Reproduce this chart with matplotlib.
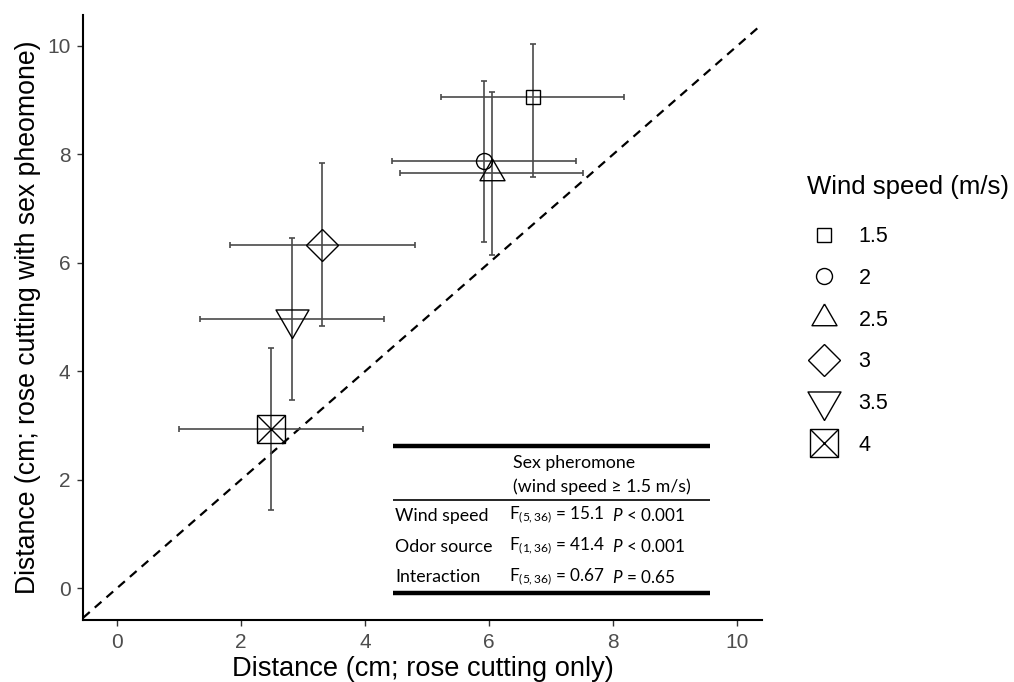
import matplotlib
matplotlib.use("Agg")
import matplotlib.pyplot as plt
from matplotlib.legend_handler import HandlerTuple
from matplotlib.lines import Line2D

# =========================================================
# DATA
# =========================================================
wind_speeds = ["1.5", "2", "2.5", "3", "3.5", "4"]
x_mean = [6.70, 5.92, 6.04, 3.31, 2.82, 2.48]
x_err = [1.48, 1.48, 1.48, 1.49, 1.48, 1.48]
y_mean = [9.06, 7.87, 7.65, 6.33, 4.96, 2.93]
y_err_lo = [1.48, 1.48, 1.51, 1.50, 1.49, 1.49]
y_err_hi = [0.98, 1.49, 1.50, 1.51, 1.49, 1.49]

axis_ticks = [0, 2, 4, 6, 8, 10]

table_header = ["Sex pheromone", "(wind speed \u2265 1.5 m/s)"]
table_terms = ["Wind speed", "Odor source", "Interaction"]
table_f = [r"F$_{(5,36)}$ = 15.1", r"F$_{(1,36)}$ = 41.4", r"F$_{(5,36)}$ = 0.67"]
table_p = [r"$P$ < 0.001", r"$P$ < 0.001", r"$P$ = 0.65"]

# =========================================================
# STYLE
# =========================================================
plt.rcParams["font.family"] = ["Liberation Sans", "DejaVu Sans"]
plt.rcParams["mathtext.fontset"] = "custom"
plt.rcParams["mathtext.rm"] = "Lato"
plt.rcParams["mathtext.it"] = "Lato:italic"

tri_up = [(0, 1), (-0.866, -0.5), (0.866, -0.5), (0, 1)]
tri_down = [(0, -1), (-0.866, 0.5), (0.866, 0.5), (0, -1)]
markers = ["s", "o", tri_up, "D", tri_down, "s"]
sizes = [10.3, 11.5, 20.8, 15.8, 27.4, 20.2]

fig = plt.figure(figsize=(10.14, 6.82), dpi=100)
ax = fig.add_axes([0.0819, 0.0909, 0.6696, 0.8871])

# identity line
ax.axline((0, 0), slope=1, color="black", lw=1.6, ls=(0, (4, 3)), zorder=1)

handles = []
for i, ws in enumerate(wind_speeds):
    ax.errorbar(x_mean[i], y_mean[i],
                xerr=x_err[i], yerr=[[y_err_lo[i]], [y_err_hi[i]]],
                fmt="none", ecolor="#4a4a4a", elinewidth=1.2,
                capsize=2.3, capthick=1.2, zorder=2)
    ax.plot(x_mean[i], y_mean[i], marker=markers[i], ms=sizes[i],
            mfc="none", mec="black", mew=1.0, ls="none", zorder=3)
    h = Line2D([], [], marker=markers[i], ms=sizes[i], mfc="none",
               mec="black", mew=1.0, ls="none")
    if ws == "4":
        ax.plot(x_mean[i], y_mean[i], marker="x", ms=sizes[i],
                mec="black", mew=1.0, ls="none", zorder=3)
        hx = Line2D([], [], marker="x", ms=sizes[i], mec="black",
                    mew=1.0, ls="none")
        h = (h, hx)
    handles.append(h)

ax.set_xlim(-0.55, 10.4)
ax.set_ylim(-0.59, 10.57)
ax.set_xticks(axis_ticks)
ax.set_yticks(axis_ticks)
ax.tick_params(axis="both", labelsize=15, labelcolor="#4D4D4D",
               color="#333333", length=4, width=1.0, pad=5)
ax.tick_params(axis="x", pad=5.5)
for side in ["top", "right"]:
    ax.spines[side].set_visible(False)
for side in ["left", "bottom"]:
    ax.spines[side].set_linewidth(1.5)

ax.set_xlabel("Distance (cm; rose cutting only)", fontsize=19.6, labelpad=2.5)
ax.set_ylabel("Distance (cm; rose cutting with sex pheomone)", fontsize=19.2)
ax.yaxis.set_label_coords(-0.062, 0.5)

# =========================================================
# ANOVA TABLE
# =========================================================
tx0, tx1 = 4.45, 9.56
ax.plot([tx0, tx1], [2.62, 2.62], color="black", lw=3.2, solid_capstyle="butt")
ax.plot([tx0, tx1], [1.62, 1.62], color="black", lw=1.2, solid_capstyle="butt")
ax.plot([tx0, tx1], [-0.09, -0.09], color="black", lw=3.2, solid_capstyle="butt")

tfont = dict(family=["Lato", "DejaVu Sans"], fontsize=12.8, va="center")
ffont = dict(tfont, fontsize=12.3)
ax.text(6.39, 2.31, table_header[0], **tfont)
ax.text(6.39, 1.86, table_header[1], **tfont)
row_y = [1.33, 0.76, 0.20]
for ry, term, f, p in zip(row_y, table_terms, table_f, table_p):
    ax.text(4.48, ry, term, **tfont)
    ax.text(6.32, ry, f, **ffont)
    ax.text(7.98, ry, p, **ffont)

# =========================================================
# LEGEND
# =========================================================
leg = fig.legend(handles, wind_speeds, title="Wind speed (m/s)",
                 loc="upper left", bbox_to_anchor=(0.785, 0.7594),
                 frameon=False, fontsize=15.5, title_fontsize=18.5,
                 handler_map={tuple: HandlerTuple(ndivide=1)},
                 labelspacing=0.96, handlelength=1.6, handletextpad=0.8,
                 borderpad=0)
leg._legend_box.align = "left"
leg._legend_box.sep = 19.8

fig.savefig("out.png", dpi=100)
